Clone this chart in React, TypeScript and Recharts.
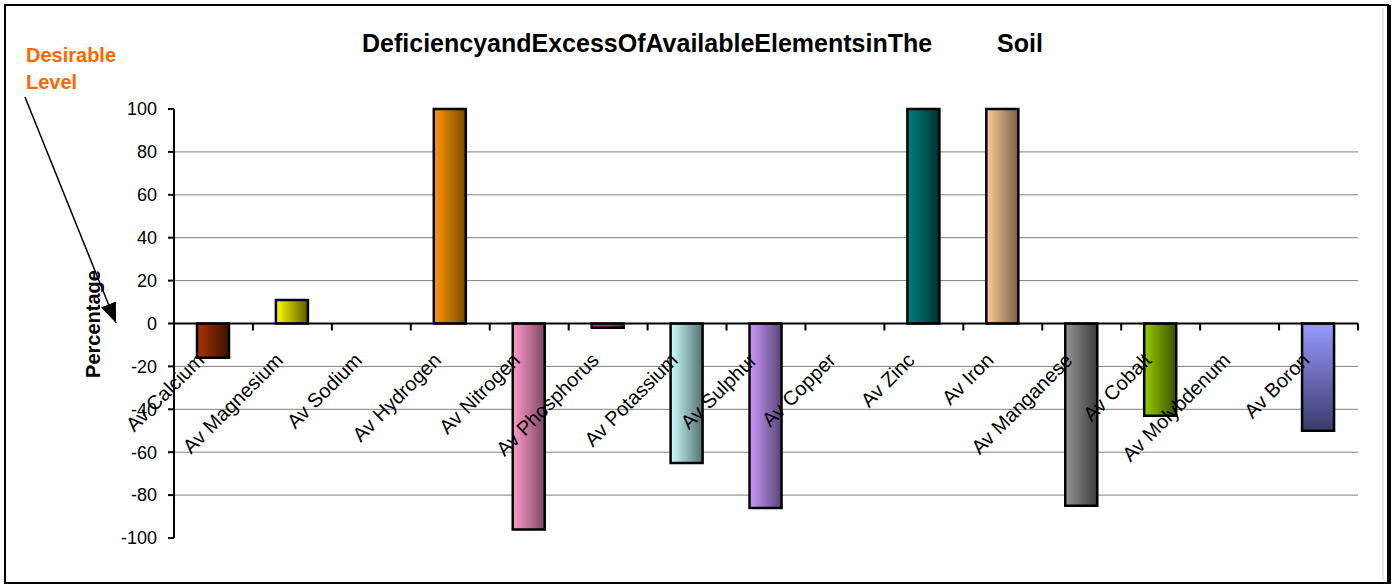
import React from "react";
import {
  BarChart,
  Bar,
  Cell,
  XAxis,
  YAxis,
  CartesianGrid,
  ReferenceLine,
} from "recharts";

// data
const elements = [
  "Av Calcium",
  "Av Magnesium",
  "Av Sodium",
  "Av Hydrogen",
  "Av Nitrogen",
  "Av Phosphorus",
  "Av Potassium",
  "Av Sulphur",
  "Av Copper",
  "Av Zinc",
  "Av Iron",
  "Av Manganese",
  "Av Cobalt",
  "Av Molybdenum",
  "Av Boron",
];
const percentages = [-16, 11, 0, 100, -96, -2, -65, -86, 0, 100, 100, -85, -43, 0, -50];
const yTicks = [-100, -80, -60, -40, -20, 0, 20, 40, 60, 80, 100];
const gridValues = [-80, -60, -40, -20, 20, 40, 60, 80];

// light -> dark shading per bar
const barShades = [
  ["#a83400", "#3a1000"],
  ["#ffff00", "#5e5e00"],
  ["#999999", "#333333"],
  ["#ff9900", "#7a4a00"],
  ["#ff99cc", "#7a4a62"],
  ["#ff00ff", "#800080"],
  ["#ccffff", "#567070"],
  ["#cc99ff", "#5a4578"],
  ["#999999", "#333333"],
  ["#008080", "#003030"],
  ["#ffcc99", "#7a6048"],
  ["#969696", "#3c3c3c"],
  ["#99cc00", "#3a5000"],
  ["#999999", "#333333"],
  ["#9999ff", "#3a3a6a"],
];

const data = elements.map((name, i) => ({ name, value: percentages[i] }));

const W = 1395;
const H = 585;
const PLOT_LEFT = 174;
const PLOT_RIGHT = 1358;
const PLOT_TOP = 109;
const PLOT_BOTTOM = 538;
const ZERO_Y = PLOT_TOP + ((PLOT_BOTTOM - PLOT_TOP) * 100) / 200;
const BAND = (PLOT_RIGHT - PLOT_LEFT) / elements.length;
const FONT = "'Liberation Sans', Arial, sans-serif";

function CategoryTick(props: any) {
  const { x, payload } = props;
  const lx = x - 8;
  const ly = ZERO_Y + 38;
  return (
    <g>
      <line
        x1={x + BAND / 2}
        x2={x + BAND / 2}
        y1={ZERO_Y}
        y2={ZERO_Y + 7}
        stroke="#000"
        strokeWidth={2}
      />
      <text
        x={lx}
        y={ly}
        textAnchor="end"
        transform={`rotate(-45 ${lx} ${ly})`}
        fontFamily={FONT}
        fontSize={20}
        fill="#000"
      >
        {payload.value}
      </text>
    </g>
  );
}

export default function App() {
  return (
    <div style={{ position: "absolute", left: 0, top: 0, width: W, height: H, background: "#fff" }}>
      <svg width={0} height={0} style={{ position: "absolute" }}>
        <defs>
          {barShades.map(([light, dark], i) => (
            <linearGradient
              key={i}
              id={`shade-${i}`}
              x1="0"
              y1="0"
              x2={i === 14 ? "0" : "1"}
              y2={i === 14 ? "1" : "0"}
            >
              <stop offset="0%" stopColor={light} />
              <stop offset="100%" stopColor={dark} />
            </linearGradient>
          ))}
        </defs>
      </svg>
      <BarChart
        width={W}
        height={H}
        data={data}
        margin={{ top: PLOT_TOP, right: W - PLOT_RIGHT, bottom: 17, left: 114 }}
      >
        <CartesianGrid
          horizontal
          vertical={false}
          horizontalValues={gridValues}
          stroke="#808080"
          strokeWidth={1}
        />
        <XAxis
          dataKey="name"
          height={H - PLOT_BOTTOM - 17}
          axisLine={false}
          tickLine={false}
          interval={0}
          tick={<CategoryTick />}
        />
        <YAxis
          width={60}
          domain={[-100, 100]}
          ticks={yTicks}
          interval={0}
          axisLine={{ stroke: "#000", strokeWidth: 2 }}
          tickLine={{ stroke: "#000", strokeWidth: 2 }}
          tickSize={6}
          tickMargin={11}
          tick={{ fill: "#000", fontSize: 18, fontFamily: FONT }}
        />
        <Bar
          dataKey="value"
          barSize={32}
          stroke="#000"
          strokeWidth={2.5}
          isAnimationActive={false}
        >
          {data.map((d, i) => (
            <Cell key={d.name} fill={`url(#shade-${i})`} />
          ))}
        </Bar>
        <ReferenceLine y={0} stroke="#000" strokeWidth={2} />
      </BarChart>
      <svg
        width={W}
        height={H}
        style={{ position: "absolute", left: 0, top: 0, pointerEvents: "none" }}
      >
        <defs>
          <marker
            id="arrowHead"
            viewBox="0 0 20 16"
            refX="20"
            refY="8"
            markerWidth="20"
            markerHeight="16"
            markerUnits="userSpaceOnUse"
            orient="auto"
          >
            <path d="M0,0 L20,8 L0,16 z" fill="#000" />
          </marker>
        </defs>
        <rect x={5} y={5} width={1383} height={578} fill="none" stroke="#000" strokeWidth={2} />
        <line x1={1389} x2={1389} y1={5} y2={584} stroke="#000" strokeWidth={4} />
        <line x1={1383} x2={1383} y1={8} y2={580} stroke="#d0d0d0" strokeWidth={1} />
        <text x={362} y={52} fontFamily={FONT} fontWeight="bold" fontSize={25} fill="#000">
          DeficiencyandExcessOfAvailableElementsinThe
        </text>
        <text x={997} y={52} fontFamily={FONT} fontWeight="bold" fontSize={25} fill="#000">
          Soil
        </text>
        <text x={26} y={62} fontFamily={FONT} fontWeight="bold" fontSize={20} fill="#ff6600">
          Desirable
        </text>
        <text x={26} y={89} fontFamily={FONT} fontWeight="bold" fontSize={20} fill="#ff6600">
          Level
        </text>
        <line
          x1={25}
          y1={97}
          x2={116}
          y2={323}
          stroke="#000"
          strokeWidth={1.5}
          markerEnd="url(#arrowHead)"
        />
        <text
          x={100}
          y={324}
          textAnchor="middle"
          transform="rotate(-90 100 324)"
          fontFamily={FONT}
          fontWeight="bold"
          fontSize={20}
          fill="#000"
        >
          Percentage
        </text>
      </svg>
    </div>
  );
}
